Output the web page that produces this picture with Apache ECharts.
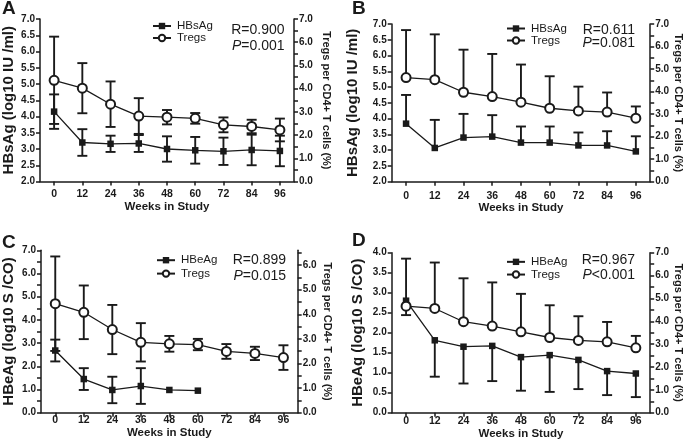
<!DOCTYPE html>
<html><head><meta charset="utf-8">
<script src="https://cdn.jsdelivr.net/npm/echarts@6/dist/echarts.min.js"></script>
<style>html,body{margin:0;padding:0;background:#fff}#c{width:685px;height:444px}</style>
</head><body><div id="c"></div>
<script>
const weeks = ['0','12','24','36','48','60','72','84','96'];

// Panel A
const aHBsAgMean = [4.15, 3.20, 3.16, 3.17, 3.00, 2.96, 2.93, 2.97, 2.94];
const aHBsAgSD   = [0.53, 0.41, 0.25, 0.26, 0.39, 0.41, 0.42, 0.47, 0.47];
const aTregsMean = [4.36, 4.02, 3.33, 2.82, 2.77, 2.72, 2.44, 2.37, 2.22];
const aTregsSD   = [1.88, 1.08, 0.98, 0.77, 0.31, 0.23, 0.32, 0.29, 0.49];
// Panel B
const bHBsAgMean = [3.84, 3.07, 3.40, 3.43, 3.24, 3.24, 3.15, 3.15, 2.96];
const bHBsAgSD   = [0.91, 0.89, 0.75, 0.68, 0.51, 0.51, 0.41, 0.45, 0.48];
const bTregsMean = [4.62, 4.53, 3.97, 3.78, 3.53, 3.26, 3.14, 3.09, 2.82];
const bTregsSD   = [2.11, 2.01, 1.89, 1.89, 1.67, 1.42, 1.08, 0.87, 0.52];
// Panel C
const cHBeAgMean = [2.68, 1.45, 0.98, 1.15, 0.98, 0.95, null, null, null];
const cHBeAgSD   = [0.47, 0.47, 0.57, 0.77, 0, 0, null, null, null];
const cTregsMean = [4.43, 4.08, 3.38, 2.86, 2.80, 2.77, 2.49, 2.41, 2.24];
const cTregsSD   = [1.92, 1.09, 1.00, 0.78, 0.32, 0.23, 0.30, 0.27, 0.50];
// Panel D
const dHBeAgMean = [2.80, 1.81, 1.65, 1.67, 1.39, 1.44, 1.32, 1.04, 0.98];
const dHBeAgSD   = [0.36, 0.91, 0.92, 0.88, 0.84, 0.92, 0.73, 0.60, 0.59];
const dTregsMean = [4.66, 4.56, 3.98, 3.79, 3.54, 3.29, 3.16, 3.10, 2.84];
const dTregsSD   = [2.08, 2.01, 1.90, 1.91, 1.66, 1.41, 1.06, 0.87, 0.52];

const panelLetters = ['A', 'B', 'C', 'D'];
const statR = ['R=0.900', 'R=0.611', 'R=0.899', 'R=0.967'];
const statP = ['=0.001', '=0.081', '=0.015', '<0.001'];

const INK = '#1a1a1a';
const FONT = '"Liberation Sans", Arial, Helvetica, sans-serif';

const grids = [
  {left: 40, top: 19, width: 254, height: 162.5},
  {left: 391.7, top: 24, width: 260, height: 157.7},
  {left: 40.7, top: 250.3, width: 257, height: 162.4},
  {left: 391.7, top: 252.7, width: 261.6, height: 160}
];
const xLabelMargin = [7.5, 8.5, 2, 3];
const xNameGap = [19, 20.5, 10.5, 13];

function fmtAll(v) { return v.toFixed(1); }
function fmtInt(v) { return Math.abs(v - Math.round(v)) < 1e-6 ? v.toFixed(1) : ''; }

const xAxes = grids.map((g, i) => ({
  type: 'category', gridIndex: i, data: weeks, boundaryGap: true,
  axisLine: {show: true, lineStyle: {color: INK, width: 1.5}},
  axisTick: {show: true, alignWithLabel: true, length: 4, lineStyle: {color: INK, width: 1.5}},
  axisLabel: {color: INK, fontWeight: 'bold', fontSize: 10.5, fontFamily: FONT, margin: xLabelMargin[i]},
  splitLine: {show: false},
  name: 'Weeks in Study', nameLocation: 'middle', nameGap: xNameGap[i],
  nameTextStyle: {color: INK, fontWeight: 'bold', fontSize: 11.5, fontFamily: FONT}
}));

function yAxis(grid, pos, min, max, fmt, name, gap) {
  return {
    type: 'value', gridIndex: grid, position: pos, min: min, max: max, interval: 0.5,
    axisLine: {show: true, lineStyle: {color: INK, width: 1.5}},
    axisTick: {show: true, length: 4, lineStyle: {color: INK, width: 1.5}},
    axisLabel: {color: INK, fontWeight: 'bold', fontSize: 10, fontFamily: FONT, margin: 5, formatter: fmt},
    splitLine: {show: false},
    name: name, nameLocation: 'middle', nameGap: gap, nameRotate: pos === 'left' ? 90 : -90,
    nameTextStyle: {color: INK, fontWeight: 'bold', fontSize: pos === 'left' ? 15 : 11, fontFamily: FONT}
  };
}
const tregName = 'Tregs per CD4+ T cells (%)';
const yAxes = [
  yAxis(0, 'left', 2, 7, fmtAll, 'HBsAg (log10 IU /ml)', 24),
  yAxis(0, 'right', 0, 7, fmtInt, tregName, 27),
  yAxis(1, 'left', 2, 7, fmtAll, 'HBsAg (log10 IU /ml)', 31),
  yAxis(1, 'right', 0, 7, fmtInt, tregName, 19),
  yAxis(2, 'left', 0, 7, fmtInt, 'HBeAg (log10 S /CO)', 25),
  yAxis(2, 'right', 0, 6.6, fmtInt, tregName, 24),
  yAxis(3, 'left', 0, 4, fmtAll, 'HBeAg (log10 S /CO)', 26),
  yAxis(3, 'right', 0, 7, fmtInt, tregName, 18)
];
yAxes[5].axisLabel.showMaxLabel = false;

function errData(mean, sd, up, down) {
  const out = [];
  mean.forEach((m, i) => {
    if (m == null) return;
    const s = sd[i] || 0;
    out.push([i, down ? m - s : m, up ? m + s : m, (down && s > 0) ? 1 : 0, (up && s > 0) ? 1 : 0]);
  });
  return out;
}
function renderErr(params, api) {
  const x = api.value(0);
  const pLo = api.coord([x, api.value(1)]);
  const pHi = api.coord([x, api.value(2)]);
  const hw = 5;
  const st = {stroke: INK, lineWidth: 1.9};
  const ch = [];
  if (api.value(3) || api.value(4)) {
    ch.push({type: 'line', shape: {x1: pLo[0], y1: pLo[1], x2: pHi[0], y2: pHi[1]}, style: st});
  }
  if (api.value(3)) ch.push({type: 'line', shape: {x1: pLo[0] - hw, y1: pLo[1], x2: pLo[0] + hw, y2: pLo[1]}, style: st});
  if (api.value(4)) ch.push({type: 'line', shape: {x1: pHi[0] - hw, y1: pHi[1], x2: pHi[0] + hw, y2: pHi[1]}, style: st});
  return {type: 'group', children: ch};
}
function errSeries(id, grid, yIdx, data) {
  return {type: 'custom', name: id, xAxisIndex: grid, yAxisIndex: yIdx, renderItem: renderErr,
    data: data, encode: {x: 0, y: [1, 2]}, z: 1, silent: true};
}
function antigenSeries(name, grid, yIdx, data) {
  return {type: 'line', name: name, xAxisIndex: grid, yAxisIndex: yIdx, data: data,
    symbol: 'rect', symbolSize: 6.5, color: INK, itemStyle: {color: INK},
    lineStyle: {color: INK, width: 1.3}, z: 3, animation: false, connectNulls: false};
}
function tregSeries(grid, yIdx, data) {
  return {type: 'line', name: 'Tregs', xAxisIndex: grid, yAxisIndex: yIdx, data: data,
    symbol: 'emptyCircle', symbolSize: 9, color: INK, itemStyle: {color: INK, borderWidth: 1.4},
    lineStyle: {color: INK, width: 1.3}, z: 3, animation: false};
}

const series = [
  errSeries('eA1', 0, 0, errData(aHBsAgMean, aHBsAgSD, true, true)),
  errSeries('eA2', 0, 1, errData(aTregsMean, aTregsSD, true, true)),
  antigenSeries('HBsAg', 0, 0, aHBsAgMean),
  tregSeries(0, 1, aTregsMean),
  errSeries('eB1', 1, 2, errData(bHBsAgMean, bHBsAgSD, true, false)),
  errSeries('eB2', 1, 3, errData(bTregsMean, bTregsSD, true, false)),
  antigenSeries('HBsAg', 1, 2, bHBsAgMean),
  tregSeries(1, 3, bTregsMean),
  errSeries('eC1', 2, 4, errData(cHBeAgMean, cHBeAgSD, true, true)),
  errSeries('eC2', 2, 5, errData(cTregsMean, cTregsSD, true, true)),
  antigenSeries('HBeAg', 2, 4, cHBeAgMean),
  tregSeries(2, 5, cTregsMean),
  errSeries('eD1', 3, 6, errData(dHBeAgMean, dHBeAgSD, false, true)),
  errSeries('eD2', 3, 7, errData(dTregsMean, dTregsSD, true, false)),
  antigenSeries('HBeAg', 3, 6, dHBeAgMean),
  tregSeries(3, 7, dTregsMean)
];

const legendPos = [
  {left: 152, top: 20, lh: 12, names: ['HBsAg', 'Tregs']},
  {left: 506, top: 22.5, lh: 11.5, names: ['HBsAg', 'Tregs']},
  {left: 156, top: 253.5, lh: 13.4, names: ['HBeAg', 'Tregs']},
  {left: 506, top: 255.5, lh: 12.7, names: ['HBeAg', 'Tregs']}
];
const legends = legendPos.map(l => ({
  data: l.names, left: l.left, top: l.top, orient: 'vertical', itemWidth: 18, itemHeight: 8,
  itemGap: 0, selectedMode: false, padding: 0,
  textStyle: {color: INK, fontSize: 11.5, fontFamily: FONT, lineHeight: l.lh, padding: [0, 0, 0, 1]}
}));

const letterPos = [[2, 8.5], [352, 9], [2, 243], [352, 241]];
const statPos = [[284.5, 30.3, 46.3], [635, 30, 43], [286, 260.3, 276], [635, 259.7, 275.3]];
const graphics = [];
panelLetters.forEach((t, i) => {
  graphics.push({type: 'text', x: letterPos[i][0], y: letterPos[i][1],
    style: {text: t, fill: INK, font: 'bold 19px ' + FONT, verticalAlign: 'middle'}});
});
statR.forEach((t, i) => {
  const p = statPos[i];
  graphics.push({type: 'text', x: p[0], y: p[1],
    style: {text: t, fill: INK, font: '14px ' + FONT, align: 'right', verticalAlign: 'middle'}});
  graphics.push({type: 'text', x: p[0], y: p[2],
    style: {text: '{i|P}{n|' + statP[i] + '}', align: 'right', verticalAlign: 'middle',
      rich: {i: {fill: INK, fontStyle: 'italic', fontSize: 14, fontFamily: FONT},
             n: {fill: INK, fontSize: 14, fontFamily: FONT}}}});
});

const chart = echarts.init(document.getElementById('c'), null, {renderer: 'canvas'});
chart.setOption({
  animation: false,
  backgroundColor: '#fff',
  textStyle: {fontFamily: FONT},
  grid: grids,
  xAxis: xAxes,
  yAxis: yAxes,
  legend: legends,
  series: series,
  graphic: graphics
});
</script></body></html>
